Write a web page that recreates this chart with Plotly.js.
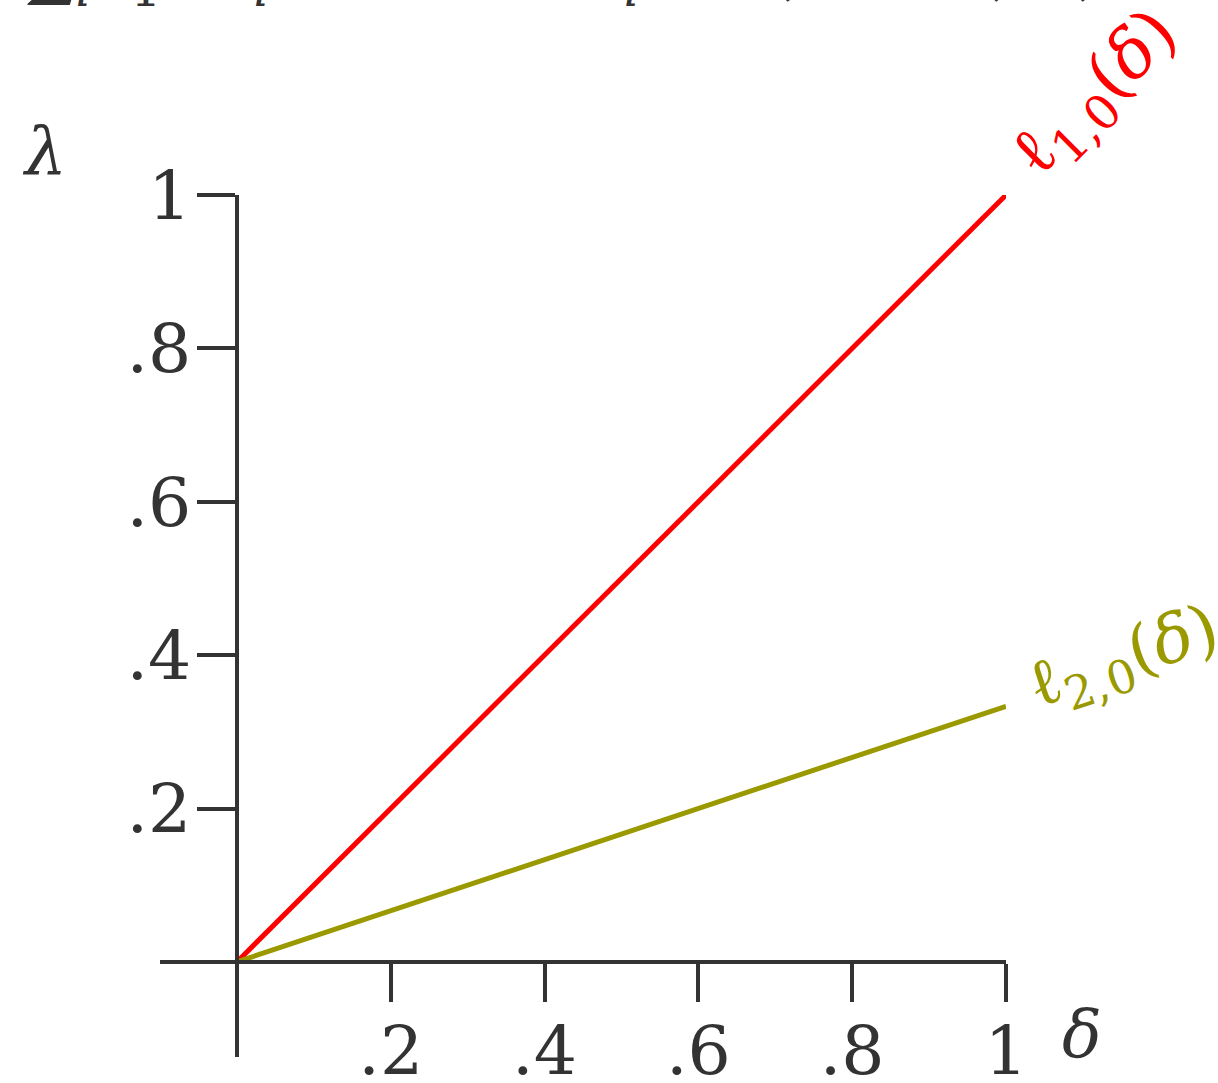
<!DOCTYPE html>
<html>
<head>
<meta charset="utf-8">
<script src="https://cdn.plot.ly/plotly-3.0.1.min.js"></script>
<style>html,body{margin:0;padding:0;background:#fff;}#chart{width:1218px;height:1083px;}</style>
</head>
<body>
<div id="chart"></div>
<script>
// data
const delta = [0, 1];
const line1 = [0, 1];          // l_{1,0}(delta)
const line2 = [0, 0.3333];     // l_{2,0}(delta)
const xTickVals = [0.2, 0.4, 0.6, 0.8, 1];
const xTickText = ['.2', '.4', '.6', '.8', '1'];
const yTickVals = [0.2, 0.4, 0.6, 0.8, 1];
const yTickText = ['.2', '.4', '.6', '.8', '1'];
const label1 = 'ℓ<sub>1,0</sub>(<i>δ</i>)';
const label2 = 'ℓ<sub>2,0</sub>(<i>δ</i>)';

const FONT = '"DejaVu Serif", serif';
const AX = '#333333';
const RED = '#ff0000';
const OLIVE = '#9a9a00';

const xr = [-0.1, 1];
const yr = [-0.124, 1];

const traces = [
  {x: delta, y: line1, mode: 'lines', line: {color: RED, width: 5}, cliponaxis: false, hoverinfo: 'skip'},
  {x: delta, y: line2, mode: 'lines', line: {color: OLIVE, width: 5}, cliponaxis: false, hoverinfo: 'skip'}
];

const layout = {
  width: 1218, height: 1083,
  margin: {l: 160, r: 212, t: 195, b: 26},
  paper_bgcolor: '#fff', plot_bgcolor: '#fff',
  showlegend: false,
  font: {family: FONT, color: AX, size: 68},
  xaxis: {
    range: xr, anchor: 'free', position: (0 - yr[0]) / (yr[1] - yr[0]),
    showgrid: false, zeroline: false,
    showline: true, linecolor: AX, linewidth: 4,
    ticks: 'outside', ticklen: 38, tickwidth: 4, tickcolor: AX,
    tickvals: xTickVals, ticktext: xTickText, ticklabelstandoff: -10,
    tickfont: {family: FONT, size: 68, color: AX}
  },
  yaxis: {
    range: yr, anchor: 'free', position: (0 - xr[0]) / (xr[1] - xr[0]),
    showgrid: false, zeroline: false,
    showline: true, linecolor: AX, linewidth: 4,
    ticks: 'outside', ticklen: 38, tickwidth: 4, tickcolor: AX,
    tickvals: yTickVals, ticktext: yTickText, ticklabelstandoff: -8,
    tickfont: {family: FONT, size: 68, color: AX}
  },
  annotations: [
    {x: delta[1], y: line1[1], xref: 'x', yref: 'y', text: label1, showarrow: false,
     textangle: -45, xanchor: 'center', yanchor: 'middle', xshift: 90, yshift: 100,
     font: {family: FONT, size: 68, color: RED}},
    {x: delta[1], y: line2[1], xref: 'x', yref: 'y', text: label2, showarrow: false,
     textangle: -18.4, xanchor: 'center', yanchor: 'middle', xshift: 118, yshift: 46,
     font: {family: FONT, size: 66, color: OLIVE}},
    {x: -0.136, y: 1.05, xref: 'paper', yref: 'paper', text: '<i>λ</i>', showarrow: false,
     xanchor: 'center', yanchor: 'middle', font: {family: FONT, size: 66, color: AX}},
    {x: 1.09, y: 0.026, xref: 'paper', yref: 'paper', text: '<i>δ</i>', showarrow: false,
     xanchor: 'center', yanchor: 'middle', font: {family: FONT, size: 66, color: AX}},
    {x: -0.16, y: 1.204, xref: 'paper', yref: 'paper',
     text: '∑<sub><i>i</i>=1</sub><sup>2</sup> <i>a<sub>i</sub></i> = 1 and <i>a<sub>i</sub></i> ≥ 0, <i>i</i> = 1, 2,',
     showarrow: false, xanchor: 'left', yanchor: 'bottom', font: {family: FONT, size: 68, color: AX}}
  ]
};

Plotly.newPlot('chart', traces, layout, {staticPlot: true, displayModeBar: false});
</script>
</body>
</html>
